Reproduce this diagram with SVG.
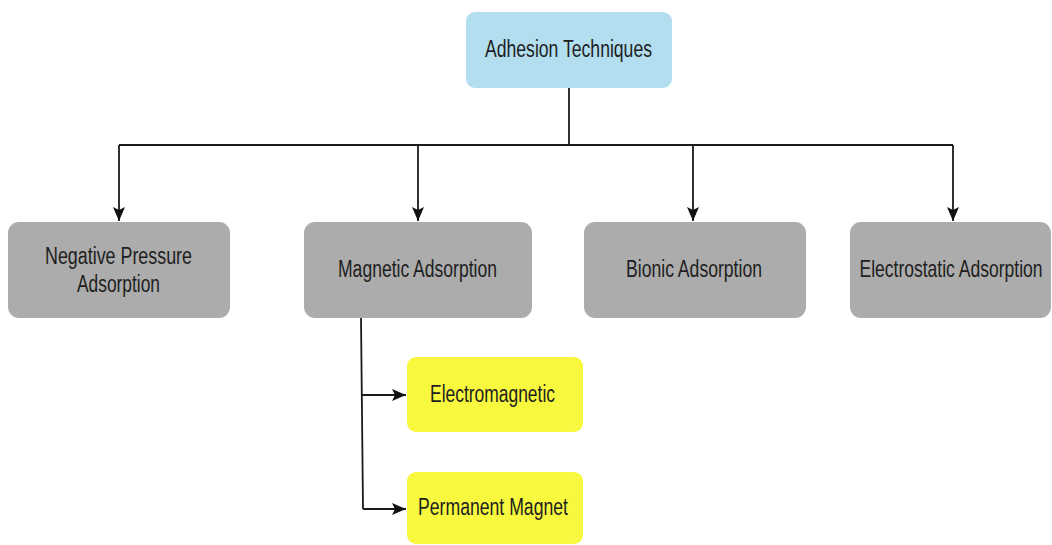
<svg xmlns="http://www.w3.org/2000/svg" width="1052" height="545" viewBox="0 0 1052 545">
<style>
.gray{fill:#acacac;}
.blue{fill:#b2def0;}
.yel{fill:#f8f83e;}
.lbl{font-family:"Liberation Sans",Arial,sans-serif;font-size:23px;fill:#1e1e1e;text-anchor:middle;}
.ln{stroke:#1a1a1a;stroke-width:1.8;fill:none;}
</style>
<defs>
<marker id="ah" viewBox="0 0 14 12" refX="14" refY="6" markerWidth="14" markerHeight="12" markerUnits="userSpaceOnUse" orient="auto">
<path d="M0,0 L14,6 L0,12 L3,6 Z" fill="#111"/>
</marker>
</defs>
<rect width="1052" height="545" fill="#fff"/>
<g id="connectors">
<path class="ln" d="M569,88 V145"/>
<path class="ln" d="M119,145 H953"/>
<path class="ln" d="M119,145 V221" marker-end="url(#ah)"/>
<path class="ln" d="M418,145 V221" marker-end="url(#ah)"/>
<path class="ln" d="M693,145 V221" marker-end="url(#ah)"/>
<path class="ln" d="M953,145 V221" marker-end="url(#ah)"/>
<path class="ln" d="M361,318 L363,509"/>
<path class="ln" d="M362,395 H406" marker-end="url(#ah)"/>
<path class="ln" d="M363,509 H406" marker-end="url(#ah)"/>
</g>
<g id="n-adhesion">
<rect class="blue" x="466" y="12" width="206" height="76" rx="9"/>
<text class="lbl" x="568.5" y="57" textLength="167" lengthAdjust="spacingAndGlyphs">Adhesion Techniques</text>
</g>
<g id="n-negative">
<rect class="gray" x="8" y="222" width="222" height="96" rx="11"/>
<text class="lbl" x="118.5" y="264" textLength="147" lengthAdjust="spacingAndGlyphs">Negative Pressure</text>
<text class="lbl" x="118.5" y="292" textLength="83" lengthAdjust="spacingAndGlyphs">Adsorption</text>
</g>
<g id="n-magnetic">
<rect class="gray" x="304" y="222" width="228" height="96" rx="11"/>
<text class="lbl" x="417.5" y="277" textLength="159" lengthAdjust="spacingAndGlyphs">Magnetic Adsorption</text>
</g>
<g id="n-bionic">
<rect class="gray" x="584" y="222" width="222" height="96" rx="11"/>
<text class="lbl" x="694" y="277" textLength="136" lengthAdjust="spacingAndGlyphs">Bionic Adsorption</text>
</g>
<g id="n-electrostatic">
<rect class="gray" x="850" y="222" width="201" height="96" rx="11"/>
<text class="lbl" transform="translate(951,277) scale(0.762,1)" x="0" y="0">Electrostatic Adsorption</text>
</g>
<g id="n-electromagnetic">
<rect class="yel" x="407" y="357" width="176" height="75" rx="9"/>
<text class="lbl" x="492.5" y="402" textLength="125" lengthAdjust="spacingAndGlyphs">Electromagnetic</text>
</g>
<g id="n-permanent">
<rect class="yel" x="407" y="472" width="176" height="72" rx="9"/>
<text class="lbl" x="493" y="515" textLength="150" lengthAdjust="spacingAndGlyphs">Permanent Magnet</text>
</g>
</svg>
